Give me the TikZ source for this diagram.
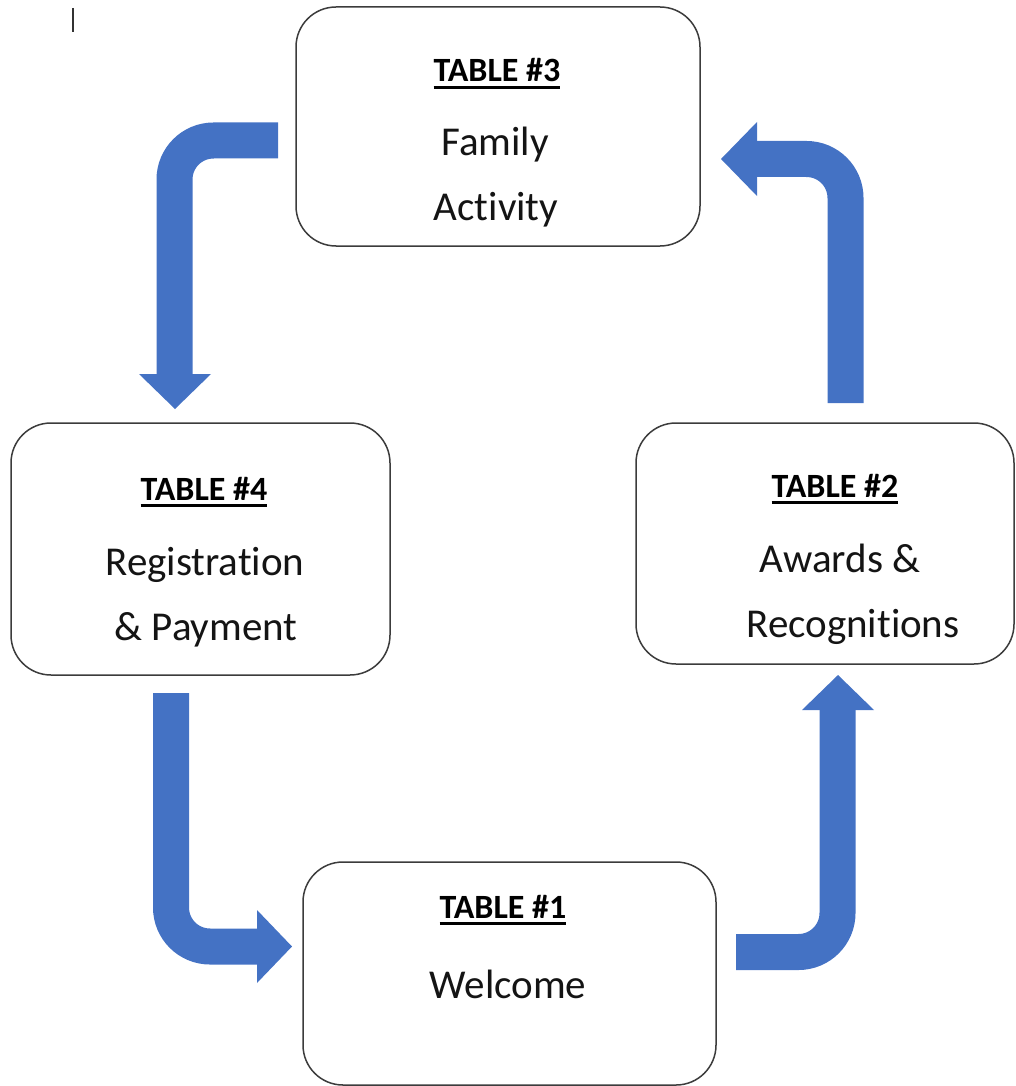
\documentclass[tikz,border=0pt]{standalone}
\usepackage{fontspec}
\setmainfont{Carlito}[RawFeature=-liga]
\definecolor{arrowblue}{HTML}{4472C4}
\definecolor{boxline}{HTML}{3C3C3C}
\newcommand\ttlul[1]{\setbox0\hbox{#1}\rlap{\rule[-7pt]{\wd0}{3pt}}\box0}
\tikzset{
  tablebox/.style={draw=boxline, line width=1.5pt, rounded corners=40pt, fill=white, inner sep=0pt},
  ttl/.style={anchor=base, inner sep=0pt, font=\fontsize{34}{40}\selectfont\bfseries},
  bodytxt/.style={anchor=base, inner sep=0pt, text=black!92, font=\fontsize{41}{48}\selectfont},
  bentshaft/.style={draw=arrowblue, line width=36pt, line cap=butt, rounded corners=39pt},
  bluehead/.style={fill=arrowblue}
}
\begin{document}
\begin{tikzpicture}[x=1pt,y=-1pt]
\useasboundingbox (0,0) rectangle (1015,1086);
% cursor mark
\draw[line width=1.3pt, black!80] (73,8) -- (73,32);
% boxes
\node[tablebox, minimum width=404pt, minimum height=239pt] (t3) at (498,126.5) {};
\node[tablebox, minimum width=379pt, minimum height=252pt] (t4) at (200.5,549) {};
\node[tablebox, minimum width=378pt, minimum height=241pt] (t2) at (825,543.5) {};
\node[tablebox, minimum width=413pt, minimum height=223pt] (t1) at (509.5,973.5) {};
% texts
\node[ttl] (t3a) at (497,82) {\ttlul{TABLE \#3}};
\node[bodytxt] (t3b) at (495,156) {Family};
\node[bodytxt] (t3c) at (496,220) {Activity};
\node[ttl] (t4a) at (204,500) {\ttlul{TABLE \#4}};
\node[bodytxt] (t4b) at (205,575) {Registration};
\node[bodytxt] (t4c) at (206,640) {\& Payment};
\node[ttl] (t2a) at (835,497) {\ttlul{TABLE \#2}};
\node[bodytxt] (t2b) at (840,572) {Awards \&};
\node[bodytxt] (t2c) at (853,637) {Recognitions};
\node[ttl] (t1a) at (503,918) {\ttlul{TABLE \#1}};
\node[bodytxt] (t1b) at (508,998) {Welcome};
% arrow 3 -> 4
\coordinate (a34s) at (278,140.5);
\coordinate (a34c) at (174.5,140.5);
\coordinate (a34e) at (174.5,374.5);
\draw[bentshaft] (a34s) -- (a34c) -- (a34e);
\fill[bluehead] (139,374) -- (211,374) -- (175,409) -- cycle;
% arrow 2 -> 3
\coordinate (a23s) at (845.5,403);
\coordinate (a23c) at (845.5,159);
\coordinate (a23e) at (756.5,159);
\draw[bentshaft] (a23s) -- (a23c) -- (a23e);
\fill[bluehead] (757,122) -- (757,196) -- (721,159) -- cycle;
% arrow 4 -> 1
\coordinate (a41s) at (171,693);
\coordinate (a41c) at (171,946.5);
\coordinate (a41e) at (257.5,946.5);
\draw[bentshaft] (a41s) -- (a41c) -- (a41e);
\fill[bluehead] (257,910) -- (257,983) -- (292,946.5) -- cycle;
% arrow 1 -> 2
\coordinate (a12s) at (736,952);
\coordinate (a12c) at (837.5,952);
\coordinate (a12e) at (837.5,709.5);
\draw[bentshaft] (a12s) -- (a12c) -- (a12e);
\fill[bluehead] (802,710) -- (874,710) -- (838,675) -- cycle;
\end{tikzpicture}
\end{document}
